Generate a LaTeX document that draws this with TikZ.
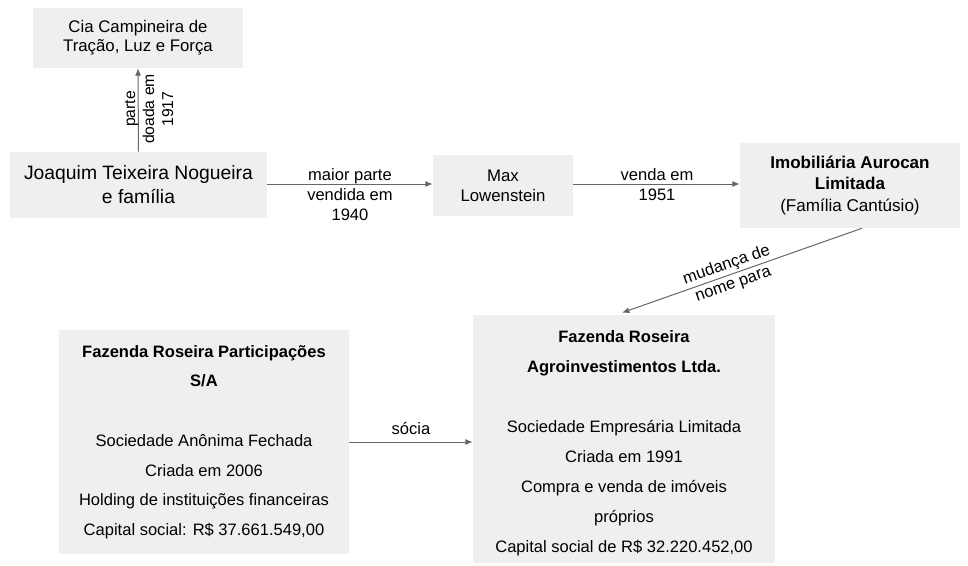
\documentclass[tikz,border=0pt]{standalone}
\usepackage{fontspec}
\setmainfont{Liberation Sans}
\usetikzlibrary{arrows.meta,calc}
\definecolor{boxgray}{HTML}{EFEFEF}
\definecolor{linegray}{HTML}{666666}
\begin{document}
\begin{tikzpicture}[x=0.75pt,y=-0.75pt,
  box/.style={fill=boxgray,draw=none,inner sep=0pt,align=center,text=black},
  conn/.style={draw=linegray,line width=0.75pt,-{Latex[length=5.5pt,width=4.5pt]}},
  lbl/.style={align=center,inner sep=0pt,text=black,font=\fontsize{12.4}{15}\selectfont}]
\useasboundingbox (0,0) rectangle (968,565);
% boxes
\node[box,minimum width=210*0.75pt,minimum height=60*0.75pt,font=\fontsize{12.6}{14}\selectfont] (cia) at (138,38) {Cia Campineira de\\Tração, Luz e Força};
\node[box,minimum width=257*0.75pt,minimum height=66*0.75pt,font=\fontsize{14.5}{18}\selectfont] (joa) at (138.5,185) {Joaquim Teixeira Nogueira\\e família};
\node[box,minimum width=140*0.75pt,minimum height=61*0.75pt,font=\fontsize{12.6}{15}\selectfont] (max) at (503,185.5) {Max\\Lowenstein};
\node[box,minimum width=220*0.75pt,minimum height=85*0.75pt,font=\fontsize{12.8}{16}\selectfont] (imo) at (850,185.5) {\textbf{Imobiliária Aurocan}\\\textbf{Limitada}\\(Família Cantúsio)};
\node[box,minimum width=302*0.75pt,minimum height=248*0.75pt,font=\fontsize{12.4}{22.5}\selectfont] (fra) at (624,439) {\rule{0pt}{15pt}\textbf{Fazenda Roseira}\\\textbf{Agroinvestimentos Ltda.}\\[22.5pt]Sociedade Empresária Limitada\\Criada em 1991\\Compra e venda de imóveis\\próprios\\Capital social de R\$ 32.220.452,00};
\node[box,minimum width=290*0.75pt,minimum height=224*0.75pt,font=\fontsize{12.4}{22.3}\selectfont] (frp) at (204,442) {\textbf{Fazenda Roseira Participações}\\\textbf{S/A}\\[22.3pt]Sociedade Anônima Fechada\\Criada em 2006\\Holding de instituições financeiras\\Capital social: R\$ 37.661.549,00};
% connectors
\draw[conn] (joa.north) -- (cia.south);
\node[lbl,rotate=90,font=\fontsize{11.8}{14.25}\selectfont] (l1) at (149,109) {parte\\doada em\\1917};
\draw[conn] (joa.east |- 0,184) -- (max.west |- 0,184);
\node[lbl] (l2) at (350,195) {maior parte\\vendida em\\1940};
\draw[conn] (max.east |- 0,184) -- (imo.west |- 0,184);
\node[lbl] (l3) at (657,185) {venda em\\1951};
\coordinate (d1) at ($(imo.south)+(12,0)$);
\coordinate (d2) at ($(fra.north)+(-2,-2)$);
\draw[conn] (d1) -- node[lbl,sloped,pos=0.55] (l4) {mudança de\\nome para} (d2);
\draw[conn] (frp.east) -- (fra.west |- frp.east) node[lbl,midway,above=5pt] (l5) {sócia};
\end{tikzpicture}
\end{document}
